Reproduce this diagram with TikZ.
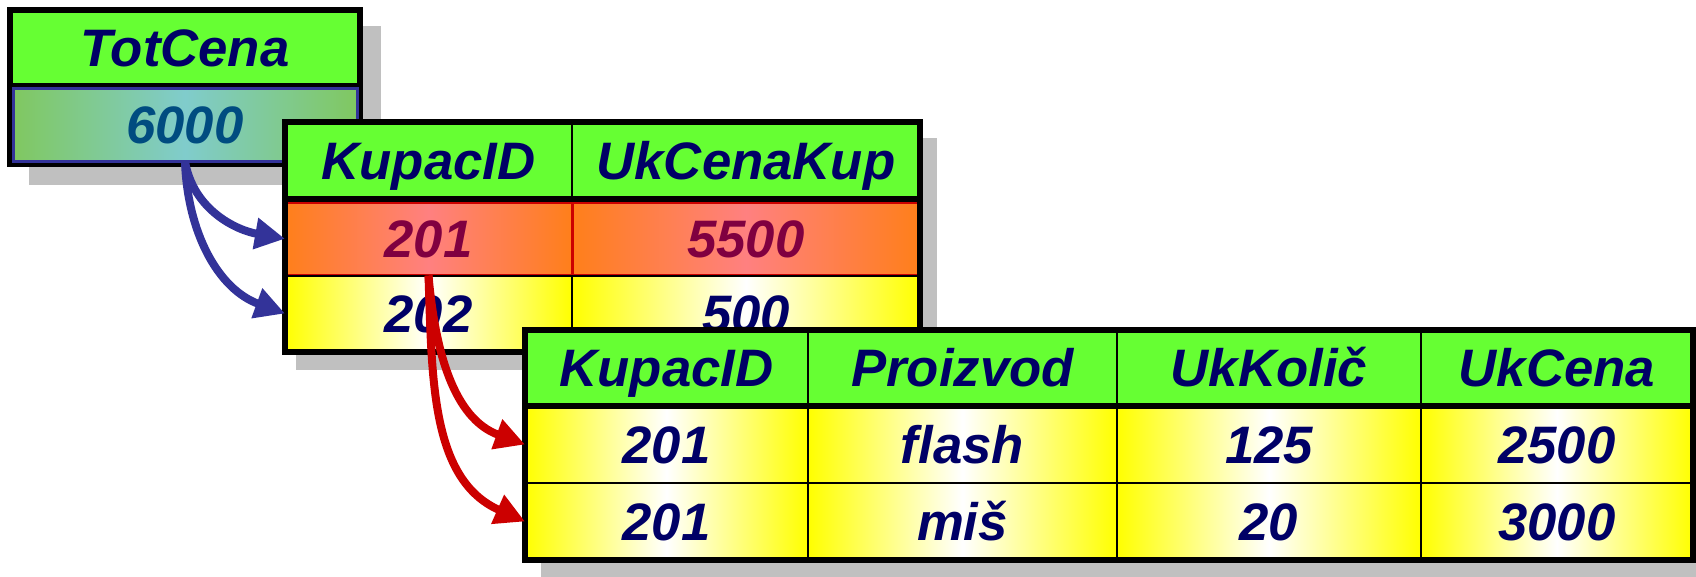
\documentclass[tikz,border=0pt]{standalone}
\usepackage{fontspec}
\setmainfont{Liberation Sans}
\usetikzlibrary{arrows.meta}

\definecolor{hdrgreen}{HTML}{66FF33}
\definecolor{navytext}{HTML}{000066}
\definecolor{shadowgray}{HTML}{C0C0C0}
\definecolor{linkblue}{HTML}{333399}
\definecolor{linkred}{HTML}{CC0000}
\definecolor{totgreen}{HTML}{80C860}
\definecolor{totteal}{HTML}{80CCCC}
\definecolor{tottext}{HTML}{004C80}
\definecolor{roworange}{HTML}{FF7F1A}
\definecolor{rowsalmon}{HTML}{FF8080}
\definecolor{rowtext}{HTML}{800040}

\begin{document}
\begin{tikzpicture}[
    >={Triangle[length=0.30cm, width=0.30cm]},
    cell/.style={draw=black, line width=0.02cm, inner sep=0pt, outer sep=0pt,
      anchor=north west, text height=10.8pt, text depth=0pt, text=navytext,
      font=\fontsize{15}{18}\selectfont\bfseries\itshape},
    hdr/.style={cell, fill=hdrgreen},
    yel/.style={cell, left color=yellow, right color=yellow, middle color=white},
    org/.style={cell, draw=linkred, line width=0.03cm, left color=roworange,
      right color=roworange, middle color=rowsalmon, text=rowtext},
    frame/.style={draw=black, line width=0.06cm},
    shadow/.style={fill=shadowgray},
    link/.style={->, line width=0.08cm}
  ]
  \useasboundingbox (0,0) rectangle (16.96,-5.76);

  % TotCena
  \fill[shadow] (0.29,-0.26) rectangle (3.81,-1.85);
  \node[hdr, minimum width=3.50cm, minimum height=0.755cm] (tot) at (0.10,-0.10) {TotCena};
  \draw[frame] (tot.north west) rectangle (3.60,-1.64);
  \draw[frame] (tot.south west) -- (tot.south east);
  \node[cell, draw=linkblue, line width=0.03cm, left color=totgreen, right color=totgreen,
    middle color=totteal, text=tottext, minimum width=3.44cm, minimum height=0.73cm]
    (totval) at (0.13,-0.885) {6000};

  % KupacID / UkCenaKup
  \fill[shadow] (2.96,-1.38) rectangle (9.37,-3.70);
  \node[hdr, minimum width=2.87cm, minimum height=0.77cm] (kid) at (2.85,-1.22) {KupacID};
  \node[hdr, minimum width=3.48cm, minimum height=0.77cm] (ukk) at (kid.north east) {UkCenaKup};
  \node[org, minimum width=2.87cm, minimum height=0.735cm] (kid1) at (2.85,-2.02) {201};
  \node[org, minimum width=3.48cm, minimum height=0.735cm] (ukk1) at (kid1.north east) {5500};
  \node[yel, minimum width=2.87cm, minimum height=0.76cm] (kid2) at (kid1.south west) {202};
  \node[yel, minimum width=3.48cm, minimum height=0.76cm] (ukk2) at (kid2.north east) {500};
  \draw[frame] (kid.north west) rectangle (ukk2.south east);
  \draw[frame] (kid.south west) -- (ukk.south east);

  \draw[link, linkblue] (totval.south) to[out=-80, in=170] (kid1.west);
  \draw[link, linkblue] (totval.south) to[out=-88, in=160] (kid2.west);

  % KupacID / Proizvod / UkKolic / UkCena
  \fill[shadow] (5.41,-3.46) rectangle (17.10,-5.80);
  \node[hdr, minimum width=2.83cm, minimum height=0.76cm] (pk) at (5.25,-3.30) {KupacID};
  \node[hdr, minimum width=3.09cm, minimum height=0.76cm] (pro) at (pk.north east) {Proizvod};
  \node[hdr, minimum width=3.04cm, minimum height=0.76cm] (kol) at (pro.north east) {UkKolič};
  \node[hdr, minimum width=2.72cm, minimum height=0.76cm] (cen) at (kol.north east) {UkCena};

  \node[yel, minimum width=2.83cm, minimum height=0.77cm] (pk1) at (pk.south west) {201};
  \node[yel, minimum width=3.09cm, minimum height=0.77cm] (pro1) at (pk1.north east) {flash};
  \node[yel, minimum width=3.04cm, minimum height=0.77cm] (kol1) at (pro1.north east) {125};
  \node[yel, minimum width=2.72cm, minimum height=0.77cm] (cen1) at (kol1.north east) {2500};

  \node[yel, minimum width=2.83cm, minimum height=0.77cm] (pk2) at (pk1.south west) {201};
  \node[yel, minimum width=3.09cm, minimum height=0.77cm] (pro2) at (pk2.north east) {miš};
  \node[yel, minimum width=3.04cm, minimum height=0.77cm] (kol2) at (pro2.north east) {20};
  \node[yel, minimum width=2.72cm, minimum height=0.77cm] (cen2) at (kol2.north east) {3000};
  \draw[frame] (pk.north west) rectangle (cen2.south east);
  \draw[frame] (pk.south west) -- (cen.south east);

  \draw[link, linkred] (kid1.south) to[out=-85, in=160] (pk1.west);
  \draw[link, linkred] (kid1.south) to[out=-88, in=156] (pk2.west);
\end{tikzpicture}
\end{document}
